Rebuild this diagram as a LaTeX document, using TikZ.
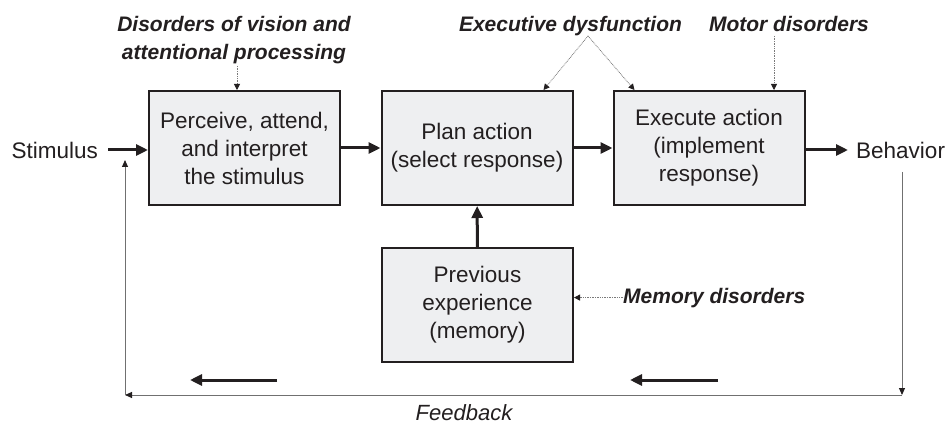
\documentclass[tikz,border=0pt]{standalone}
\usepackage{fontspec}
\setmainfont{Liberation Sans}
\usetikzlibrary{arrows.meta,calc}
\definecolor{ink}{HTML}{231F20}
\definecolor{boxfill}{HTML}{EEEFF1}
\definecolor{linegray}{HTML}{707070}
\definecolor{dotgray}{HTML}{7A7A7A}

\begin{document}
\begin{tikzpicture}[x=1pt,y=-1pt,
  stagebox/.style={draw=ink, line width=2pt, fill=boxfill,
    minimum width=191pt, minimum height=114pt, inner sep=0pt,
    align=center, text=ink, font=\fontsize{22.5}{28}\selectfont},
  termtext/.style={text=ink, inner ysep=0pt, font=\fontsize{22.5}{28}\selectfont},
  causelabel/.style={text=ink, inner sep=0pt, align=center,
    font=\fontsize{21}{28}\selectfont\bfseries\itshape},
  flowarrow/.style={draw=ink, line width=3pt,
    -{Triangle[length=12pt,width=11pt]}},
  hintarrow/.style={draw=dotgray, line width=0.8pt, dash pattern=on 0.8pt off 0.9pt,
    -{Triangle[length=6pt,width=6pt,color=ink]}},
  backline/.style={draw=linegray, line width=1pt,
    -{Triangle[length=7pt,width=6pt,color=ink]}}]

\fill[white] (0,0) rectangle (948,425);
\useasboundingbox (0,0) rectangle (948,425);

% processing stages
\node[stagebox] (b1) at (244.5,148) {Perceive, attend,\\and interpret\\the stimulus};
\node[stagebox] (b2) at (477,148) {Plan action\\(select response)};
\node[stagebox] (b3) at (709,148) {Execute action\\(implement\\response)};
\node[stagebox] (b4) at (477.5,305) {Previous\\experience\\(memory)};

% input and output
\node[termtext, anchor=east, inner xsep=10pt] (stim) at (108,150) {Stimulus};
\node[termtext, anchor=west, inner xsep=8pt] (beh) at (848,150) {Behavior};

% main flow
\draw[flowarrow] (stim.east) -- (b1.west |- stim.east);
\draw[flowarrow] (b1) -- (b2);
\draw[flowarrow] (b2) -- (b3);
\draw[flowarrow] (b3.east |- beh.west) -- (beh.west);
\draw[flowarrow] (b4) -- (b2);

% disorders affecting each stage
\node[causelabel, anchor=south] (vis) at (234,64.5) {Disorders of vision and\\attentional processing};
\node[causelabel, anchor=base] (exe) at (570.5,32) {Executive dysfunction};
\node[causelabel, anchor=base] (mot) at (789,32) {Motor disorders};
\node[causelabel, anchor=base west] (mem) at (623,303) {Memory disorders};

\coordinate (vis-foot) at ($(vis.south)+(3,1.5)$);
\coordinate (exe-foot) at ($(exe.base)+(17.5,4)$);
\coordinate (mot-foot) at ($(mot.base)+(-15,4)$);

\draw[hintarrow] (vis-foot) -- (vis-foot |- b1.north);
\draw[hintarrow] (exe-foot) -- ($(b2.north east)+(-30,0)$);
\draw[hintarrow] (exe-foot) -- ($(b3.north west)+(22,0)$);
\draw[hintarrow] (mot-foot) -- (mot-foot |- b3.north);
\draw[hintarrow] (mem.west) -- (mem.west -| b4.east);

% feedback loop
\coordinate (fb-a) at (902,172);
\coordinate (fb-b) at (902,395);
\coordinate (fb-c) at (125,395);
\coordinate (fb-d) at (125,160);
\draw[backline] (fb-a) -- (fb-b);
\draw[backline] (fb-b) -- (fb-c);
\draw[backline] (fb-c) -- (fb-d);

\coordinate (ret1-a) at (277,380);
\coordinate (ret1-b) at (190,380);
\coordinate (ret2-a) at (718,380);
\coordinate (ret2-b) at (630,380);
\draw[flowarrow] (ret1-a) -- (ret1-b);
\draw[flowarrow] (ret2-a) -- (ret2-b);

\node[text=ink, inner sep=0pt, anchor=base, font=\fontsize{22}{26}\selectfont\itshape] (fb) at (464,420.5) {Feedback};

\end{tikzpicture}
\end{document}
